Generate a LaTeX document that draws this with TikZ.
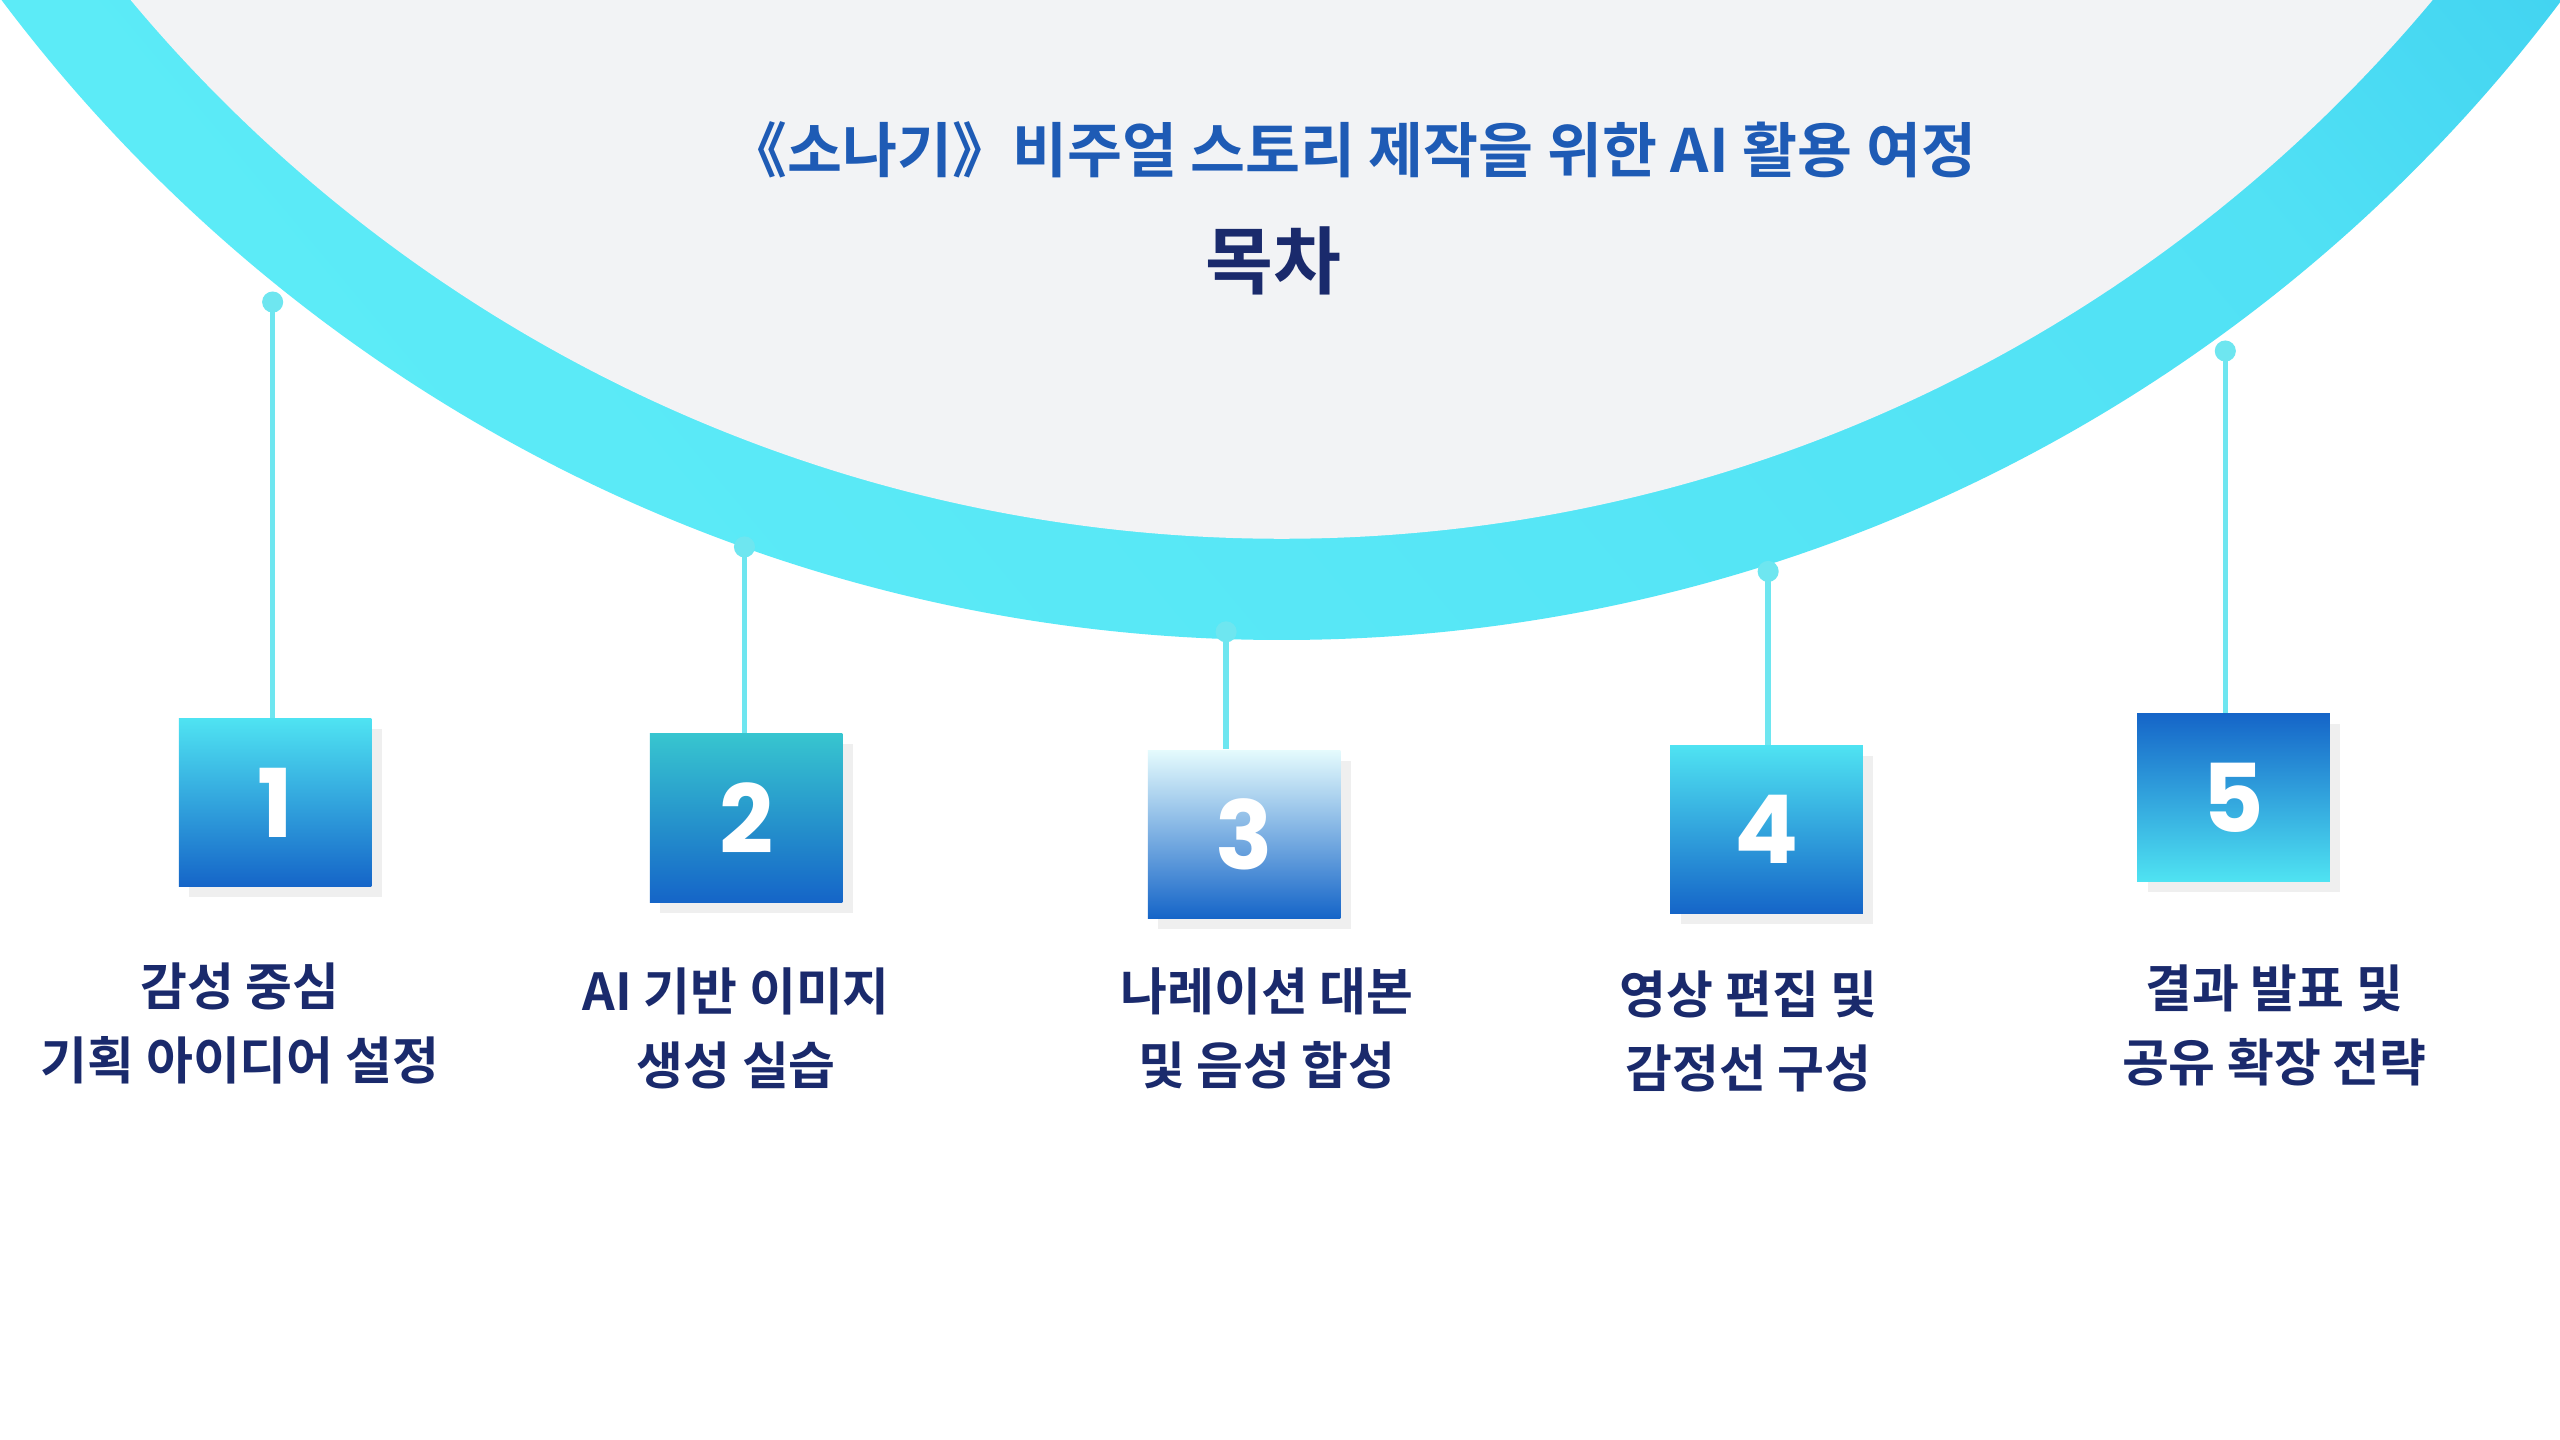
\documentclass[tikz,border=0pt]{standalone}
\usepackage{fontspec}
\setmainfont{Noto Sans CJK KR}[BoldFont={Noto Sans CJK KR Bold}]
\newfontfamily\pop{Poppins}[BoldFont={Poppins Bold}]
\usetikzlibrary{shadows}
\definecolor{bgray}{HTML}{F2F3F5}
\definecolor{navy}{HTML}{1A2A6C}
\definecolor{tblue}{HTML}{1E5BB5}
\definecolor{lc}{HTML}{6EE6F0}
\definecolor{cy}{HTML}{4FE3F2}
\definecolor{bl}{HTML}{1565C8}
\definecolor{ringa}{HTML}{12A8E6}
\definecolor{ringb}{HTML}{5CEBF7}
\tikzset{
  numbox/.style={minimum width=118*0.01633cm, minimum height=103*0.01633cm, inner sep=0pt,
    text=white, font=\pop\bfseries\fontsize{27}{27}\selectfont, shading angle=45,
    drop shadow={opacity=0.12, shadow xshift=3pt, shadow yshift=-3pt}},
  conn/.style={lc, line width=1.6pt},
  dotn/.style={circle, fill=lc, inner sep=0pt, minimum size=6pt},
  lab/.style={text=navy, font=\bfseries\fontsize{14.5}{21}\selectfont, align=center}
}
\begin{document}
\begin{tikzpicture}[x=0.01633cm,y=-0.01633cm]
\useasboundingbox (0,0) rectangle (1568,882);
\fill[white] (0,0) rectangle (1568,882);
\begin{scope}
\clip (0,0) rectangle (1568,882);
\shade[top color=ringa, bottom color=ringb, middle color=ringb!85!ringa, shading angle=-50] (785,-588) circle (980);
\fill[bgray] (785,-588) circle (918);
\end{scope}
\node[text=tblue, font=\bfseries\fontsize{17}{20}\selectfont] (title) at (828,92) {《소나기》비주얼 스토리 제작을 위한 AI 활용 여정};
\node[text=navy, font=\bfseries\fontsize{21}{24}\selectfont] (toc) at (780,160) {목차};

\node[numbox, top color=cy, bottom color=bl] (b1) at (168.5,491.5) {1};
\node[numbox, top color=cy!70!teal, bottom color=bl] (b2) at (457,501) {2};
\node[numbox, top color=white!85!cy, bottom color=bl] (b3) at (762,511) {3};
\node[numbox, top color=cy, bottom color=bl] (b4) at (1082,508) {4};
\node[numbox, top color=bl, bottom color=cy] (b5) at (1368,488.5) {5};

\node[dotn] (d1) at (167,185) {};
\node[dotn] (d2) at (456,335) {};
\node[dotn] (d3) at (751,387) {};
\node[dotn] (d4) at (1083,350) {};
\node[dotn] (d5) at (1363,215) {};
\draw[conn] (d1.center) -- (d1.center |- b1.north);
\draw[conn] (d2.center) -- (d2.center |- b2.north);
\draw[conn] (d3.center) -- (d3.center |- b3.north);
\draw[conn] (d4.center) -- (d4.center |- b4.north);
\draw[conn] (d5.center) -- (d5.center |- b5.north);

\node[lab] (l1) at (147,627) {감성 중심\\기획 아이디어 설정};
\node[lab] (l2) at (451,630) {AI 기반 이미지\\생성 실습};
\node[lab] (l3) at (776,630) {나레이션 대본\\및 음성 합성};
\node[lab] (l4) at (1071,632) {영상 편집 및\\감정선 구성};
\node[lab] (l5) at (1393,628) {결과 발표 및\\공유 확장 전략};
\end{tikzpicture}
\end{document}
